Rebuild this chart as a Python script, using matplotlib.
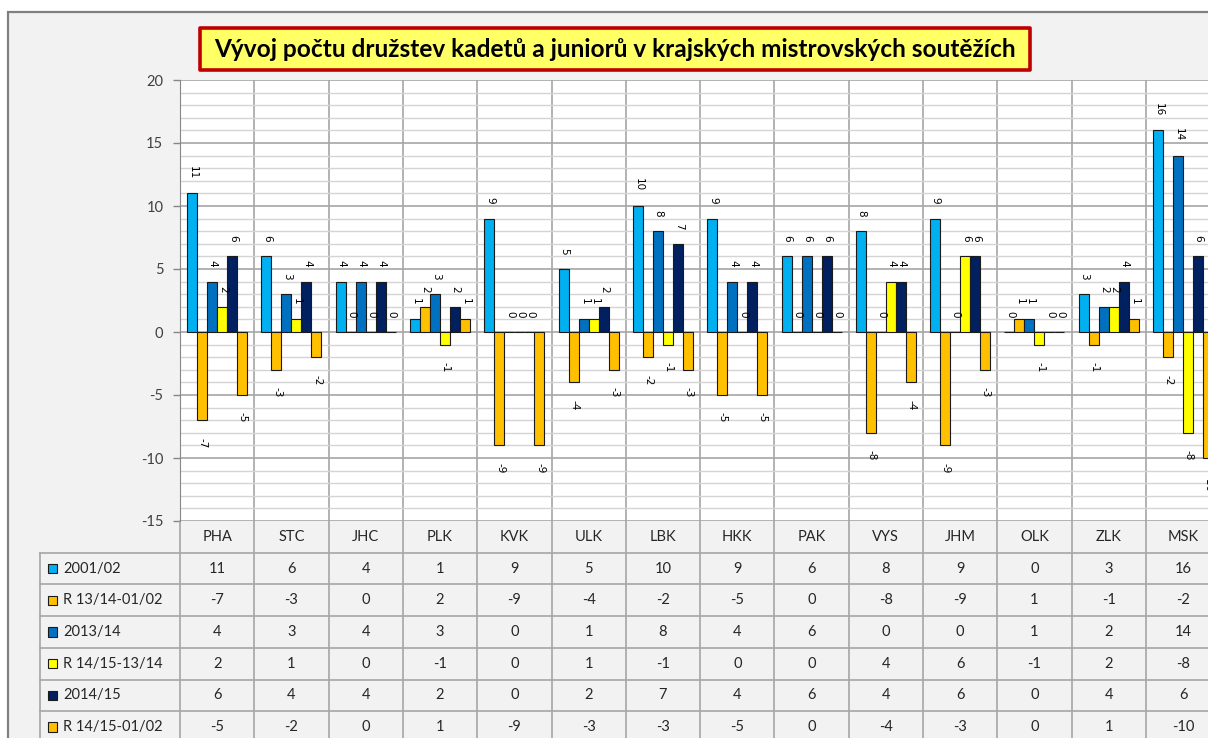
import numpy as np
import matplotlib
matplotlib.use("Agg")
import matplotlib.pyplot as plt
from matplotlib.patches import Rectangle
from matplotlib.transforms import blended_transform_factory

plt.rcParams['font.family'] = ['Lato', 'DejaVu Sans']
plt.rcParams['axes.unicode_minus'] = False

# ── data ────────────────────────────────────────────────────────────────────
regions = ["PHA", "STC", "JHC", "PLK", "KVK", "ULK", "LBK",
           "HKK", "PAK", "VYS", "JHM", "OLK", "ZLK", "MSK"]
s_2001 = [11, 6, 4, 1, 9, 5, 10, 9, 6, 8, 9, 0, 3, 16]
r_1314_0102 = [-7, -3, 0, 2, -9, -4, -2, -5, 0, -8, -9, 1, -1, -2]
s_2013 = [4, 3, 4, 3, 0, 1, 8, 4, 6, 0, 0, 1, 2, 14]
r_1415_1314 = [2, 1, 0, -1, 0, 1, -1, 0, 0, 4, 6, -1, 2, -8]
s_2014 = [6, 4, 4, 2, 0, 2, 7, 4, 6, 4, 6, 0, 4, 6]
r_1415_0102 = [-5, -2, 0, 1, -9, -3, -3, -5, 0, -4, -3, 0, 1, -10]

series_names = ["2001/02", "R 13/14-01/02", "2013/14",
                "R 14/15-13/14", "2014/15", "R 14/15-01/02"]
series_values = [s_2001, r_1314_0102, s_2013, r_1415_1314, s_2014, r_1415_0102]
series_colors = ["#00b0f0", "#ffc000", "#0070c0", "#ffff00", "#002060", "#ffc000"]

title = "Vývoj počtu družstev kadetů a juniorů v krajských mistrovských soutěžích"

# ── layout (pixels) ─────────────────────────────────────────────────────────
W, H = 1208, 738
plot_left, plot_top, plot_bottom = 180, 80, 521
cat_px = 74.3
row_px = 31.7
grid_col = "#a6a6a6"

fig = plt.figure(figsize=(W / 100, H / 100), dpi=100)
fig.patch.set_facecolor("white")

# chart area (runs off the right and bottom edge like the screenshot)
fig.add_artist(Rectangle((8 / W, -0.1), 1.2, (H - 12) / H + 0.1,
                         transform=fig.transFigure, facecolor="#f2f2f2",
                         edgecolor="#808080", lw=1.6, zorder=0))

# title box
fig.add_artist(Rectangle((200 / W, 1 - 70 / H), 830 / W, 42 / H,
                         transform=fig.transFigure, facecolor="#ffff66",
                         edgecolor="#c00000", lw=2.6, joinstyle="round",
                         zorder=1))
fig.text(615 / W, 1 - 49.5 / H, title, ha="center", va="center",
         fontsize=17.6, fontweight="bold", color="black", zorder=2)

ax = fig.add_axes([plot_left / W, (H - plot_bottom) / H,
                   len(regions) * cat_px / W, (plot_bottom - plot_top) / H])
ax.set_facecolor("white")
ax.set_xlim(0, len(regions))
ax.set_ylim(-15, 20)

ax.set_yticks(range(-15, 21, 5))
ax.set_yticks(range(-15, 21), minor=True)
ax.set_xticks(range(0, len(regions) + 1))
ax.set_xticklabels([])
ax.grid(which="major", axis="y", color=grid_col, lw=1.2)
ax.grid(which="minor", axis="y", color="#d4d4d4", lw=1.0)
ax.grid(which="major", axis="x", color=grid_col, lw=1.2)
ax.set_axisbelow(True)
ax.tick_params(axis="y", which="major", length=5, width=1, color="#868686",
               pad=7, labelsize=10.5, labelcolor="#404040")
ax.tick_params(axis="y", which="minor", length=0)
ax.tick_params(axis="x", length=0)
for side in ["top", "right", "bottom"]:
    ax.spines[side].set_visible(False)
ax.spines["left"].set_color("#868686")

# bars
bar_w = 10 / cat_px
x = np.arange(len(regions)) + 0.5
n = len(series_values)
for i, (vals, col) in enumerate(zip(series_values, series_colors)):
    xs = x + (i - (n - 1) / 2) * bar_w
    ax.bar(xs, vals, width=bar_w, color=col, edgecolor="#1a1a1a", lw=0.8,
           zorder=3)
    for xv, v in zip(xs, vals):
        if v >= 0:
            ax.annotate(str(v), (xv, v), xytext=(0.5, 10.5),
                        textcoords="offset points", rotation=270,
                        ha="center", va="bottom", fontsize=7.5,
                        family="DejaVu Sans", zorder=4)
        else:
            ax.annotate(str(v), (xv, v), xytext=(0.5, -12.5),
                        textcoords="offset points", rotation=270,
                        ha="center", va="top", fontsize=7.5,
                        family="DejaVu Sans", zorder=4)

# ── data table under the plot ──────────────────────────────────────────────
tr = blended_transform_factory(ax.transData, ax.transAxes)
rh = row_px / (plot_bottom - plot_top)
x_leg = -(plot_left - 40) / cat_px
n_rows = n + 1
line_kw = dict(color=grid_col, lw=1.2, transform=tr, clip_on=False, zorder=2)

for k in range(1, n_rows + 1):
    ax.plot([x_leg, len(regions)], [-k * rh, -k * rh], **line_kw)
for c in range(0, len(regions) + 1):
    ax.plot([c, c], [0, -n_rows * rh], **line_kw)
ax.plot([x_leg, x_leg], [-rh, -n_rows * rh], **line_kw)

for c, name in enumerate(regions):
    ax.text(c + 0.5, -0.5 * rh, name, transform=tr, ha="center", va="center",
            fontsize=10.5, color="#262626", clip_on=False)

sq_px = 9.5
for i, (name, vals, col) in enumerate(zip(series_names, series_values,
                                          series_colors)):
    yc = -(i + 1.5) * rh
    ax.add_patch(Rectangle((x_leg + 7.5 / cat_px, yc - sq_px / 2 / (plot_bottom - plot_top)),
                           sq_px / cat_px, sq_px / (plot_bottom - plot_top),
                           transform=tr, facecolor=col, edgecolor="#1a1a1a",
                           lw=0.8, clip_on=False, zorder=3))
    ax.text(x_leg + 23 / cat_px, yc, name, transform=tr, ha="left",
            va="center", fontsize=10.5, color="#262626", clip_on=False)
    for c, v in enumerate(vals):
        ax.text(c + 0.5, yc, str(v), transform=tr, ha="center", va="center",
                fontsize=10.5, color="#262626", clip_on=False)

fig.savefig("out.png", dpi=100, facecolor=fig.get_facecolor())
